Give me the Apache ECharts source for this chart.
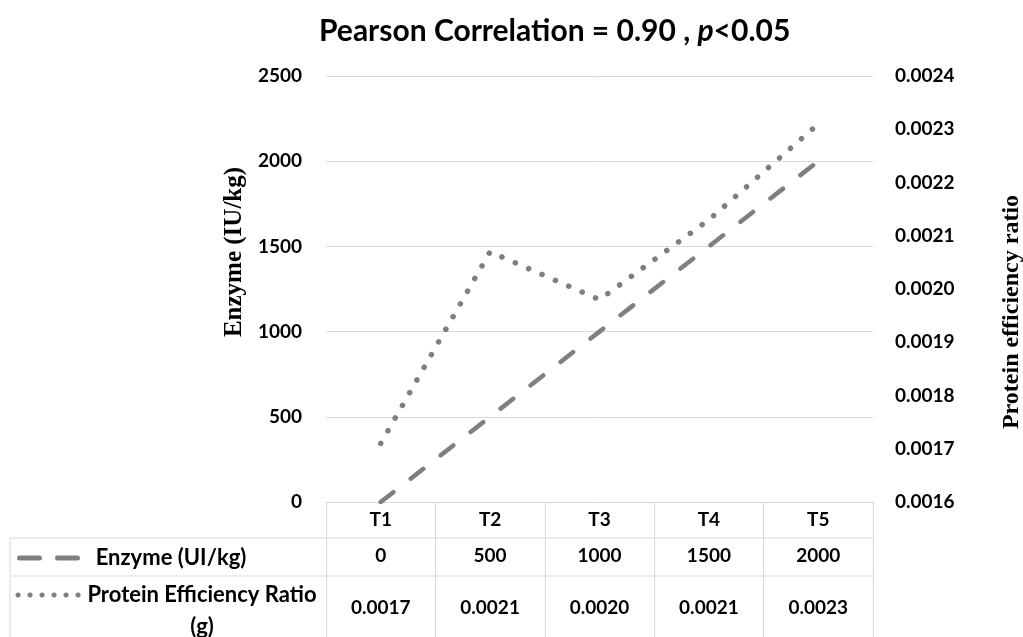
<!DOCTYPE html>
<html>
<head>
<meta charset="utf-8">
<script src="https://cdn.jsdelivr.net/npm/echarts@6/dist/echarts.min.js"></script>
<style>
  html, body { margin: 0; padding: 0; background: #fff; }
  #main { width: 1023px; height: 637px; }
</style>
</head>
<body>
<div id="main"></div>
<script>
// 数据
const categories = ['T1', 'T2', 'T3', 'T4', 'T5']
const enzyme = [0, 500, 1000, 1500, 2000]
const per = [0.00171, 0.00207, 0.00198, 0.00213, 0.00231]
// 表格里显示的文字
const enzymeRow = ['0', '500', '1000', '1500', '2000']
const perRow = ['0.0017', '0.0021', '0.0020', '0.0021', '0.0023']
const rowNames = ['Enzyme (UI/kg)', 'Protein Efficiency Ratio\n(g)']

const LINE = '#7f7f7f'
const BORDER = '#d9d9d9'
const FONT = 'Lato, "Noto Sans", sans-serif'
const SERIF = '"Liberation Serif", "DejaVu Serif", serif'

const myChart = echarts.init(document.getElementById('main'))

// 表格下面两行的 x 轴（只显示文字）
function rowAxis (data, offset) {
  return {
    type: 'category',
    gridIndex: 0,
    position: 'bottom',
    offset: offset,
    data: data,
    axisLine: { show: false },
    axisTick: { show: false },
    splitLine: { show: false },
    axisLabel: { margin: 8, color: '#000', fontSize: 19, fontWeight: 'bold', fontFamily: FONT }
  }
}

const option = {
  backgroundColor: '#fff',
  title: {
    text: 'Pearson Correlation = 0.90 , {i|p}<0.05',
    left: 314,
    top: 11,
    textStyle: {
      color: '#000',
      fontSize: 30,
      fontWeight: 'bold',
      fontFamily: FONT,
      rich: {
        i: { fontStyle: 'italic', fontSize: 30, fontWeight: 'bold', fontFamily: FONT, color: '#000' }
      }
    }
  },
  grid: {
    left: 326,
    right: 150,
    top: 76,
    bottom: 135,
    containLabel: false,
    outerBoundsMode: 'none' // 不要让坐标轴名字把网格挤小
  },
  xAxis: [
    {
      type: 'category',
      data: categories,
      boundaryGap: true,
      axisLine: { show: true, lineStyle: { color: BORDER, width: 1 } },
      axisTick: { show: true, length: 140, lineStyle: { color: BORDER, width: 1 } }, // 表格竖线
      axisLabel: { margin: 8, color: '#000', fontSize: 19, fontWeight: 'bold', fontFamily: FONT },
      splitLine: { show: false }
    },
    rowAxis(enzymeRow, 36),
    rowAxis(perRow, 88)
  ],
  yAxis: [
    {
      type: 'value',
      min: 0,
      max: 2500,
      interval: 500,
      name: 'Enzyme (IU/kg)',
      nameLocation: 'middle',
      nameRotate: 90,
      nameGap: 79,
      nameTextStyle: {
        fontFamily: SERIF,
        fontWeight: 'bold',
        fontSize: 25,
        color: '#000',
        padding: [0, 0, 0, 74]
      },
      axisLine: { show: false },
      axisTick: { show: false },
      axisLabel: {
        margin: 24,
        color: '#000',
        fontSize: 19,
        fontWeight: 'bold',
        fontFamily: FONT,
        formatter: v => String(v)
      },
      splitLine: { show: true, lineStyle: { color: BORDER, width: 1 } }
    },
    {
      type: 'value',
      position: 'right',
      min: 0.0016,
      max: 0.0024,
      interval: 0.0001,
      name: 'Protein efficiency ratio',
      nameLocation: 'middle',
      nameRotate: 90,
      nameGap: 127,
      nameTextStyle: {
        fontFamily: SERIF,
        fontWeight: 'bold',
        fontSize: 24,
        color: '#000',
        padding: [0, 46, 0, 0]
      },
      axisLine: { show: false },
      axisTick: { show: false },
      axisLabel: {
        margin: 22,
        color: '#000',
        fontSize: 19,
        fontWeight: 'bold',
        fontFamily: FONT,
        formatter: v => v.toFixed(4)
      },
      splitLine: { show: false }
    }
  ],
  series: [
    {
      name: rowNames[0],
      type: 'line',
      xAxisIndex: 0,
      yAxisIndex: 0,
      data: enzyme,
      symbol: 'none',
      lineStyle: { color: LINE, width: 4.5, type: [16, 22], cap: 'round' }
    },
    {
      name: rowNames[1],
      type: 'line',
      xAxisIndex: 0,
      yAxisIndex: 1,
      data: per,
      symbol: 'none',
      lineStyle: { color: LINE, width: 5.5, type: [0.1, 14.5], cap: 'round' }
    }
  ],
  // 表格的横线、左边框和行名
  graphic: [
    { type: 'line', shape: { x1: 10, y1: 538, x2: 873, y2: 538 }, style: { stroke: BORDER, lineWidth: 1 } },
    { type: 'line', shape: { x1: 10, y1: 576, x2: 873, y2: 576 }, style: { stroke: BORDER, lineWidth: 1 } },
    { type: 'line', shape: { x1: 10, y1: 538, x2: 10, y2: 637 }, style: { stroke: BORDER, lineWidth: 1 } },
    { type: 'line', shape: { x1: 19.5, y1: 558, x2: 77.5, y2: 558 }, style: { stroke: LINE, lineWidth: 5, lineDash: [20, 18], lineCap: 'round' } },
    { type: 'line', shape: { x1: 18, y1: 595, x2: 78.1, y2: 595 }, style: { stroke: LINE, lineWidth: 5, lineDash: [0.1, 11.9], lineCap: 'round' } },
    { type: 'text', x: 171, y: 558, style: { text: rowNames[0], font: 'bold 22px ' + FONT, fill: '#000', align: 'center', verticalAlign: 'middle' } },
    { type: 'text', x: 202, y: 611, style: { text: rowNames[1], font: 'bold 22px ' + FONT, fill: '#000', align: 'center', verticalAlign: 'middle', lineHeight: 32 } }
  ]
}

myChart.setOption(option)
window.onresize = myChart.resize
</script>
</body>
</html>
